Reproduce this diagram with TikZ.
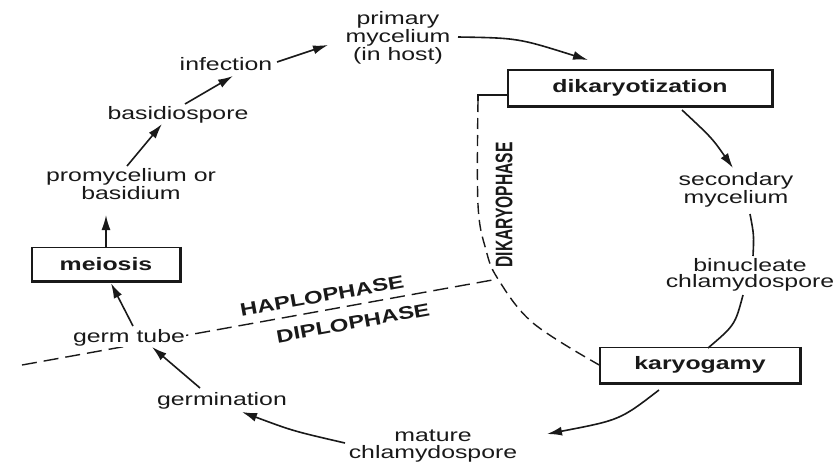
\documentclass[tikz,border=0pt]{standalone}
\usepackage{fontspec}
\setmainfont{Liberation Sans}[FakeStretch=1.38]
\newfontfamily\phasefont{Liberation Sans}[FakeStretch=1.33]
\newfontfamily\dikfont{Liberation Sans}[FakeStretch=0.65]
\usetikzlibrary{arrows.meta,calc,backgrounds}
\begin{document}
\begin{tikzpicture}[x=1pt,y=-1pt,
  lbl/.style={text=black!90, font=\fontsize{18}{16.5}\selectfont, align=center, inner sep=1pt},
  boxnode/.style={draw=black!90, line width=1.5pt, font=\fontsize{18}{18}\selectfont\bfseries, inner sep=0pt, text=black!90},
  arr/.style={draw=black!90, line width=1.6pt, -{Latex[length=15pt,width=9pt]}},
  plainline/.style={draw=black!90, line width=1.6pt},
  phase/.style={draw=black!90, line width=1.4pt, dash pattern=on 15pt off 7pt},
  dkphase/.style={draw=black!90, line width=1.4pt, dash pattern=on 11pt off 6pt},
  phaselbl/.style={text=black!90, font=\phasefont\bfseries\fontsize{18}{18}\selectfont, inner sep=0pt}
]
\useasboundingbox (0,0) rectangle (840,466);

% nodes
\node[lbl] (prim) at (398,38) {primary\\mycelium\\(in host)};
\node[boxnode, minimum width=264pt, minimum height=36pt] (dik) at (640,88) {dikaryotization};
\node[lbl] (sec) at (736,190) {secondary\\mycelium};
\node[lbl] (bin) at (750,275) {binucleate\\chlamydospore};
\node[boxnode, minimum width=200pt, minimum height=35pt] (kary) at (700,365) {karyogamy};
\node[lbl] (mat) at (433,446) {mature\\chlamydospore};
\node[lbl, anchor=base] (germi) at (222,405) {germination};
\node[lbl, anchor=base, fill=white] (gt) at (129,342) {germ tube};
\node[boxnode, minimum width=148pt, minimum height=33pt] (mei) at (106,264) {meiosis};
\node[lbl] (promy) at (131,184) {promycelium or\\basidium};
\node[lbl, anchor=base] (basi) at (178,119) {basidiospore};
\node[lbl, anchor=base] (inf) at (226,70) {infection};

% thick right/bottom edges of boxes
\foreach \b in {dik,kary,mei}
  \draw[line width=3pt, black!90] (\b.north east) -- (\b.south east) -- (\b.south west);

% phase boundaries
\coordinate (hl0) at (22,365);
\coordinate (jn) at (498,279);
\coordinate (dk) at (478,95);
\coordinate (dk2) at (478,101);
\coordinate (dk3) at (478,205);
\coordinate (dk4) at (486,250);
\coordinate (dk5) at (533,323);
\begin{scope}[on background layer]
  \draw[phase] (hl0) -- (jn);
\end{scope}
\draw[plainline, line width=1.4pt] ($(dik.west)+(0,7)$) -- (dk) -- (dk2);
\draw[dkphase] plot[smooth, tension=0.6] coordinates {(dk2) (dk3) (dk4) (jn) (dk5) (kary.west)};

\node[phaselbl, rotate=10.3] (hap) at (322,296) {HAPLOPHASE};
\node[phaselbl, rotate=10.3] (dip) at (353,323) {DIPLOPHASE};
\node[text=black!90, font=\dikfont\bfseries\fontsize{24}{24}\selectfont, rotate=90, inner sep=0pt] (dkp) at (504,205) {DIKARYOPHASE};

% cycle connectors
\draw[arr] (mei.north) -- ($(promy)+(-25,31)$);
\draw[arr] ($(promy)+(-4,-18)$) -- ($(basi.base)+(-16,5)$);
\draw[arr] ($(basi.base)+(7,-15)$) -- ($(inf.base)+(7,6)$);
\draw[arr] ($(inf.base)+(51,-8)$) -- ($(prim)+(-70,7)$);
\draw[arr] ($(prim)+(60,-1)$) .. controls ($(prim)+(120,0)$) .. ($(dik)+(-52,-28)$);
\draw[arr] ($(dik)+(42,22)$) .. controls ($(dik)+(72,50)$) .. ($(sec)+(-3,-22)$);
\draw[plainline] ($(sec)+(14,24)$) .. controls ($(sec)+(18,45)$) .. ($(bin)+(3,-19)$);
\draw[plainline] ($(bin)+(-7,20)$) .. controls ($(bin)+(-15,50)$) .. ($(kary)+(8,-17)$);
\draw[arr] ($(kary)+(-41,25)$) .. controls ($(kary)+(-80,55)$) .. ($(mat)+(114,-12)$);
\draw[arr] ($(mat)+(-88,-3)$) .. controls ($(mat)+(-140,-15)$) .. ($(germi.base)+(20,7)$);
\draw[arr] ($(germi.base)+(-22,-17)$) -- ($(gt.base)+(23,5)$);
\draw[arr] ($(gt.base)+(4,-16)$) -- ($(mei.south)+(5,2)$);
\end{tikzpicture}
\end{document}
